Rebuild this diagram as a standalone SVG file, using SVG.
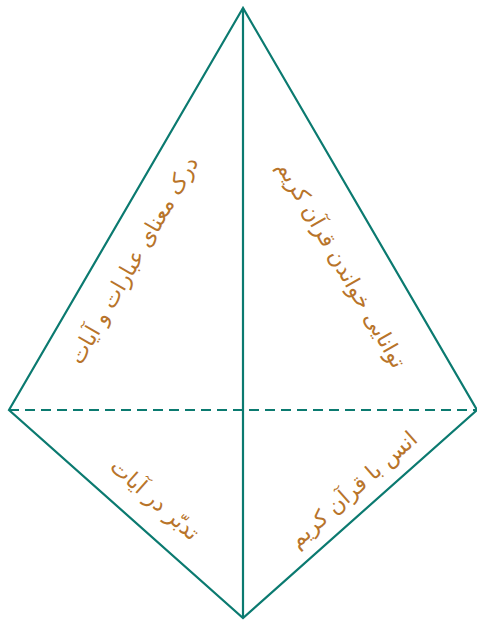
<svg xmlns="http://www.w3.org/2000/svg" width="477" height="620" viewBox="0 0 477 620">
<style>
.edge{stroke:#0b7a70;stroke-width:2.2;fill:none}
.dash{stroke-dasharray:10 6}
.lbl{fill:#b8742a;font-family:"DejaVu Sans",sans-serif;font-size:22px;text-anchor:middle;direction:rtl}
</style>
<rect width="477" height="620" fill="#ffffff"/>
<g id="connectors">
<path class="edge" d="M243,8 L9,410 L243,618 L477,410 Z"/>
<line class="edge" x1="243" y1="8" x2="243" y2="618"/>
<line class="edge dash" x1="9" y1="410" x2="477" y2="410"/>
</g>
<g id="node-understanding"><text class="lbl" transform="translate(140,264) rotate(-60)">درک معنای عبارات و آیات</text></g>
<g id="node-reading"><text class="lbl" transform="translate(335,268) rotate(60)">توانایی خواندن قرآن کریم</text></g>
<g id="node-reflection"><text class="lbl" transform="translate(150,505) rotate(41.6)">تدبّر در آیات</text></g>
<g id="node-familiarity"><text class="lbl" transform="translate(358,495) rotate(-41.6)">انس با قرآن کریم</text></g>
</svg>
